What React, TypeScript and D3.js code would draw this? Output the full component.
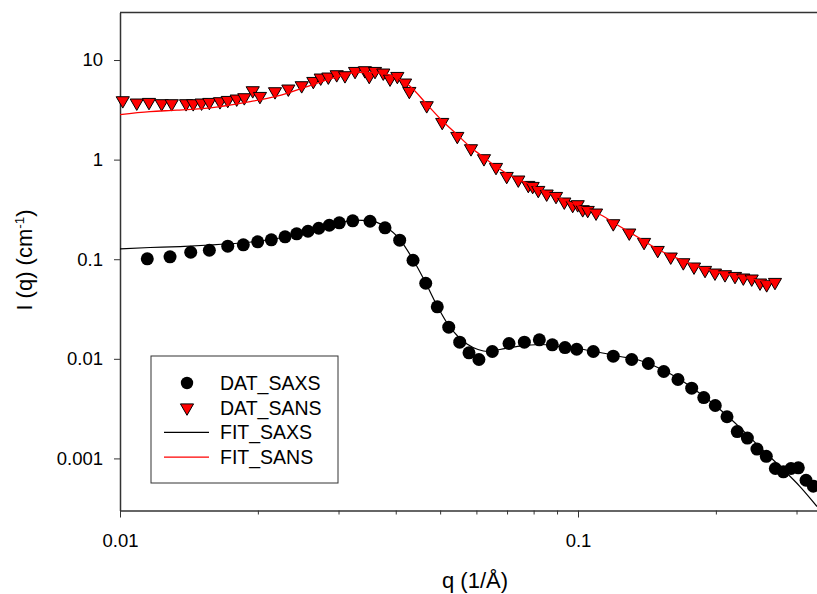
import React, { useEffect, useRef } from 'react';
import * as d3 from 'd3';

// SAXS data (q in 1/A, I in cm^-1)
const qSaxs = [0.01147, 0.01286, 0.01427, 0.01567, 0.01719, 0.01859, 0.01998, 0.0214, 0.02293, 0.02431, 0.02573, 0.02716, 0.02864, 0.03012, 0.03222, 0.03515, 0.0379, 0.0408, 0.04363, 0.04651, 0.04929, 0.05221, 0.05517, 0.05781, 0.06077, 0.065, 0.07069, 0.07636, 0.08234, 0.08788, 0.09368, 0.09935, 0.108, 0.1194, 0.131, 0.1424, 0.1539, 0.1653, 0.1771, 0.1882, 0.1994, 0.2115, 0.2227, 0.2343, 0.2459, 0.2577, 0.2697, 0.2808, 0.2918, 0.3027, 0.3147, 0.3265];
const iSaxs = [0.1009, 0.1057, 0.1175, 0.1231, 0.1351, 0.1396, 0.1496, 0.1566, 0.1679, 0.1799, 0.191, 0.2047, 0.2194, 0.232, 0.2429, 0.2407, 0.2066, 0.1552, 0.0977, 0.0574, 0.0333, 0.0208, 0.01468, 0.01148, 0.00984, 0.01184, 0.01425, 0.01468, 0.01552, 0.01383, 0.01298, 0.01248, 0.01184, 0.01062, 0.00984, 0.00897, 0.00746, 0.0062, 0.00507, 0.00408, 0.0034, 0.00262, 0.00186, 0.0016, 0.00124, 0.00105, 0.000792, 0.000733, 0.000792, 0.000805, 0.000604, 0.000526];

// SANS data
const qSans = [0.01014, 0.01088, 0.01157, 0.01233, 0.01297, 0.01394, 0.01445, 0.01507, 0.01567, 0.01653, 0.01719, 0.01798, 0.01868, 0.01949, 0.02021, 0.0218, 0.02331, 0.02493, 0.02643, 0.02743, 0.0285, 0.02973, 0.03099, 0.0326, 0.03426, 0.03501, 0.03604, 0.03757, 0.03887, 0.04032, 0.04192, 0.04283, 0.04674, 0.05053, 0.05451, 0.05839, 0.06233, 0.06622, 0.06988, 0.07407, 0.07789, 0.07962, 0.08189, 0.08543, 0.08954, 0.09335, 0.09736, 0.09985, 0.1024, 0.105, 0.1095, 0.1194, 0.1294, 0.1394, 0.1493, 0.1594, 0.1698, 0.1792, 0.1894, 0.1991, 0.2094, 0.2202, 0.2296, 0.2395, 0.2497, 0.2582, 0.2692];
const iSans = [3.921, 3.718, 3.77, 3.659, 3.659, 3.659, 3.659, 3.718, 3.77, 3.832, 3.948, 4.078, 4.203, 4.94, 4.331, 4.827, 5.138, 5.546, 6.124, 6.626, 6.781, 7.151, 6.988, 7.718, 7.843, 6.876, 7.718, 7.437, 6.475, 6.876, 5.902, 4.861, 3.494, 2.374, 1.718, 1.292, 1.026, 0.8389, 0.6812, 0.6271, 0.5534, 0.5407, 0.493, 0.4536, 0.429, 0.377, 0.3485, 0.3542, 0.3155, 0.3105, 0.2923, 0.2282, 0.1841, 0.1482, 0.1231, 0.1057, 0.0926, 0.0839, 0.0776, 0.073, 0.0702, 0.0675, 0.0651, 0.0636, 0.058, 0.0557, 0.0588];

// fits
const qFitSaxs = [0.01, 0.01163, 0.01352, 0.01572, 0.01828, 0.02021, 0.02235, 0.02472, 0.02734, 0.03022, 0.0326, 0.03515, 0.0379, 0.04086, 0.04363, 0.04658, 0.04922, 0.05203, 0.0547, 0.05723, 0.06049, 0.0636, 0.06755, 0.07468, 0.0826, 0.09135, 0.101, 0.1117, 0.1235, 0.1366, 0.151, 0.167, 0.1847, 0.2042, 0.2258, 0.2497, 0.2761, 0.3053, 0.3326];
const iFitSaxs = [0.1272, 0.1311, 0.1341, 0.1389, 0.1455, 0.1523, 0.1633, 0.1811, 0.2033, 0.2309, 0.2474, 0.2446, 0.2129, 0.1577, 0.0993, 0.057, 0.0343, 0.0221, 0.01675, 0.01408, 0.0124, 0.01184, 0.0124, 0.01344, 0.01392, 0.01329, 0.01254, 0.01157, 0.01055, 0.00962, 0.00799, 0.0062, 0.00448, 0.0031, 0.00204, 0.00129, 0.000829, 0.000522, 0.000329];
const qFitSans = [0.01, 0.01163, 0.01332, 0.01572, 0.01856, 0.02202, 0.02599, 0.02977, 0.03292, 0.0364, 0.04026, 0.04298, 0.04681, 0.05047, 0.05443, 0.05839, 0.06233, 0.06622, 0.07105, 0.07856, 0.08687, 0.0985, 0.1117, 0.1235, 0.1366, 0.151, 0.167, 0.1847, 0.2042, 0.2258, 0.2497, 0.2692];
const iFitSans = [2.836, 3.04, 3.133, 3.311, 3.718, 4.331, 5.546, 6.781, 7.541, 7.437, 6.626, 5.456, 3.575, 2.469, 1.786, 1.323, 1.05, 0.8527, 0.6924, 0.5623, 0.4568, 0.3542, 0.2811, 0.2129, 0.1614, 0.1223, 0.0993, 0.0826, 0.0735, 0.067, 0.0611, 0.0584];

const yTicks = [0.001, 0.01, 0.1, 1, 10];
const yTickLabels = ['0.001', '0.01', '0.1', '1', '10'];
const xMajor = [0.01, 0.1];
const xMajorLabels = ['0.01', '0.1'];
const xMinor = [0.02, 0.03, 0.04, 0.05, 0.06, 0.07, 0.08, 0.09, 0.2, 0.3];

const legendItems = [
  { label: 'DAT_SAXS', kind: 'circle', color: '#000' },
  { label: 'DAT_SANS', kind: 'triangle', color: '#ff0000' },
  { label: 'FIT_SAXS', kind: 'line', color: '#000' },
  { label: 'FIT_SANS', kind: 'line', color: '#ff0000' },
];

const FONT = '"Liberation Sans", Arial, sans-serif';

const App = () => {
  const svgRef = useRef<SVGSVGElement | null>(null);

  useEffect(() => {
    const width = 817;
    const height = 594;
    const left = 120;
    const top = 12.5;
    const bottom = 510.5;

    const svg = d3.select(svgRef.current);
    svg.selectAll('*').remove();
    svg.attr('width', width).attr('height', height);

    // right edge of the frame falls outside the picture
    const x = d3.scaleLog().domain([0.01, 0.4]).range([left, left + 458 * Math.log10(40)]);
    const y = d3.scaleLog().domain([0.0003, 30]).range([bottom, top]);

    // frame top
    svg.append('line')
      .attr('x1', left).attr('x2', x(0.4))
      .attr('y1', top).attr('y2', top)
      .attr('stroke', '#333').attr('stroke-width', 1.5);

    // y axis
    const yAxis = svg.append('g')
      .attr('transform', `translate(${left},0)`)
      .call(d3.axisLeft(y).tickValues(yTicks).tickFormat((_, i) => yTickLabels[i]).tickSize(6).tickSizeOuter(0).tickPadding(11));
    yAxis.select('.domain').attr('stroke', '#333').attr('stroke-width', 1.5);
    yAxis.selectAll('.tick line').attr('stroke', '#333');
    yAxis.selectAll('text').attr('font-family', FONT).attr('font-size', 18.5).attr('fill', '#000');

    // x axis
    const xAxis = svg.append('g')
      .attr('transform', `translate(0,${bottom})`)
      .call(d3.axisBottom(x).tickValues(xMajor).tickFormat((_, i) => xMajorLabels[i]).tickSize(7).tickSizeOuter(0).tickPadding(16));
    xAxis.select('.domain').attr('stroke', '#333').attr('stroke-width', 1.5);
    xAxis.selectAll('.tick line').attr('stroke', '#333');
    xAxis.selectAll('text').attr('font-family', FONT).attr('font-size', 18.5).attr('fill', '#000');

    const xMinorAxis = svg.append('g')
      .attr('transform', `translate(0,${bottom})`)
      .call(d3.axisBottom(x).tickValues(xMinor).tickFormat(() => '').tickSize(4).tickSizeOuter(0));
    xMinorAxis.select('.domain').remove();
    xMinorAxis.selectAll('.tick line').attr('stroke', '#333');

    // axis titles
    svg.append('text')
      .attr('x', 475)
      .attr('y', 588)
      .attr('text-anchor', 'middle')
      .attr('font-family', FONT)
      .attr('font-size', 22)
      .text('q (1/Å)');

    const yTitle = svg.append('text')
      .attr('transform', `translate(32,${260}) rotate(-90)`)
      .attr('text-anchor', 'middle')
      .attr('font-family', FONT)
      .attr('font-size', 22);
    yTitle.append('tspan').text('I (q) (cm');
    yTitle.append('tspan').attr('font-size', 13.5).attr('dy', -8).text('-1');
    yTitle.append('tspan').attr('dy', 8).text(')');

    const plot = svg.append('g');
    const tri = d3.symbol().type(d3.symbolTriangle).size(75);

    // SAXS points
    plot.append('g').selectAll('circle')
      .data(qSaxs.map((q, i) => ({ q, v: iSaxs[i] })))
      .enter()
      .append('circle')
      .attr('cx', (d) => x(d.q))
      .attr('cy', (d) => y(d.v))
      .attr('r', 6.5)
      .attr('fill', '#000');

    // SANS points
    plot.append('g').selectAll('path')
      .data(qSans.map((q, i) => ({ q, v: iSans[i] })))
      .enter()
      .append('path')
      .attr('d', tri)
      .attr('transform', (d) => `translate(${x(d.q)},${y(d.v)}) rotate(180)`)
      .attr('fill', '#ff0000')
      .attr('stroke', '#000')
      .attr('stroke-width', 1);

    const fitLine = d3.line<{ q: number; v: number }>()
      .x((d) => x(d.q))
      .y((d) => y(d.v))
      .curve(d3.curveMonotoneX);

    plot.append('path')
      .datum(qFitSaxs.map((q, i) => ({ q, v: iFitSaxs[i] })))
      .attr('d', fitLine)
      .attr('fill', 'none')
      .attr('stroke', '#000')
      .attr('stroke-width', 1.2);

    plot.append('path')
      .datum(qFitSans.map((q, i) => ({ q, v: iFitSans[i] })))
      .attr('d', fitLine)
      .attr('fill', 'none')
      .attr('stroke', '#ff0000')
      .attr('stroke-width', 1.3);

    // legend
    const lg = svg.append('g').attr('transform', 'translate(151,356)');
    lg.append('rect')
      .attr('width', 187).attr('height', 127)
      .attr('fill', '#fff').attr('stroke', '#333').attr('stroke-width', 1);

    legendItems.forEach((item, i) => {
      const cy = 27 + i * 24.7;
      if (item.kind === 'circle') {
        lg.append('circle').attr('cx', 36).attr('cy', cy).attr('r', 6.2).attr('fill', item.color);
      } else if (item.kind === 'triangle') {
        lg.append('path').attr('d', tri)
          .attr('transform', `translate(36,${cy}) rotate(180)`)
          .attr('fill', item.color).attr('stroke', '#000').attr('stroke-width', 1);
      } else {
        lg.append('line').attr('x1', 13).attr('x2', 58).attr('y1', cy).attr('y2', cy)
          .attr('stroke', item.color).attr('stroke-width', 1.2);
      }
      lg.append('text')
        .attr('x', 69).attr('y', cy + 7)
        .attr('font-family', FONT).attr('font-size', 19.5)
        .text(item.label);
    });
  }, []);

  return (
    <div>
      <svg ref={svgRef} style={{ position: 'absolute', left: 0, top: 0, background: '#fff' }}></svg>
    </div>
  );
};

export default App;
